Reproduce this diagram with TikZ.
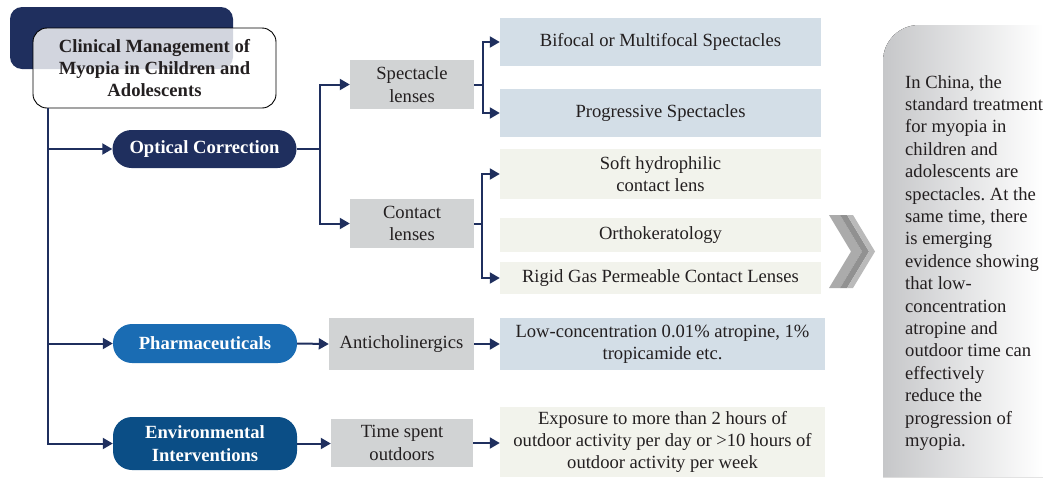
\documentclass[tikz,border=0pt]{standalone}
\usepackage{fontspec}
\setmainfont{Liberation Serif}
\usetikzlibrary{arrows.meta}
\frenchspacing
\definecolor{ink}{HTML}{231F20}
\definecolor{navy}{HTML}{1F2F5E}
\definecolor{pharmablue}{HTML}{1A6CB3}
\definecolor{envblue}{HTML}{0B4E86}
\definecolor{boxgrey}{HTML}{D1D3D4}
\definecolor{boxblue}{HTML}{D3DEE7}
\definecolor{boxcream}{HTML}{F2F3EC}
\definecolor{panelgrey}{HTML}{C6C7C9}

\begin{document}
\begin{tikzpicture}[x=1pt,y=-1pt,
  every node/.style={inner sep=0pt, align=center, text=ink, font=\fontsize{18.6}{22.4}\selectfont},
  pill/.style={fill=#1, rounded corners=19pt, minimum width=184pt, text=white,
    font=\fontsize{18.6}{22.4}\selectfont\bfseries},
  greybox/.style={fill=boxgrey, minimum width=#1},
  bluebox/.style={fill=boxblue, minimum width=#1},
  creambox/.style={fill=boxcream, minimum width=#1},
  stem/.style={draw=navy, line width=2pt},
  link/.style={stem, -{Triangle[length=10pt,width=11pt]}},
  ]
  \useasboundingbox (0,0) rectangle (1043,477);
  \newcommand{\chevband}[3]{\fill[#3] ({829+#1},215) -- ({829+#2},215) -- ({851+#2},251.5)
    -- ({829+#2},288) -- ({829+#1},288) -- ({851+#1},251.5) -- cycle;}

  \node (shadow) at (121.5,38) [fill=navy, rounded corners=12pt, minimum width=223pt, minimum height=62pt] {};
  \node (title) at (154.5,68) [draw=black, line width=0.9pt, fill=white, fill opacity=0.8, text opacity=1,
    rounded corners=14pt, minimum width=243pt, minimum height=80pt,
    font=\fontsize{18.6}{22.4}\selectfont\bfseries] {Clinical Management of\\Myopia in Children and\\Adolescents};

  \node (optical) at (204.5,149) [pill=navy, minimum height=38pt] {Optical Correction};
  \node (pharma) at (205,343.5) [pill=pharmablue, minimum height=39pt] {Pharmaceuticals};
  \node (enviro) at (205,443.5) [pill=envblue, minimum height=53pt] {Environmental\\Interventions};

  \node (spec) at (412,84.5) [greybox=124pt, minimum height=49pt] {Spectacle\\lenses};
  \node (contact) at (412,223.5) [greybox=124pt, minimum height=49pt] {Contact\\lenses};
  \node (anti) at (401.5,344) [greybox=145pt, minimum height=52pt] {Anticholinergics};
  \node (outdoor) at (402,443) [greybox=142pt, minimum height=48pt] {Time spent\\outdoors};

  \node (bifocal) at (660.5,42) [bluebox=321pt, minimum height=48pt] {Bifocal or Multifocal Spectacles};
  \node (progressive) at (660.5,113) [bluebox=321pt, minimum height=48pt] {Progressive Spectacles};
  \node (soft) at (660.5,174) [creambox=321pt, minimum height=50pt] {Soft hydrophilic\\contact lens};
  \node (ortho) at (660.5,235) [creambox=321pt, minimum height=34pt] {Orthokeratology};
  \node (rigid) at (660.5,278) [creambox=321pt, minimum height=32pt] {Rigid Gas Permeable Contact Lenses};
  \node (atropine) at (662.5,344) [bluebox=325pt, minimum height=52pt] {Low-concentration 0.01\% atropine, 1\%\\tropicamide etc.};
  \node (exposure) at (662.5,442) [creambox=325pt, minimum height=70pt] {Exposure to more than 2 hours of\\outdoor activity per day or >10 hours of\\outdoor activity per week};

  \coordinate (trunk) at ([xshift=15pt]title.south west);
  \draw[link] (trunk) |- (optical.west);
  \draw[link] (trunk) |- (pharma.west);
  \draw[link] (trunk) |- (enviro.west);

  \draw[stem] (optical.east) -- ++(23.5,0) coordinate (ocfork);
  \draw[link] (ocfork) |- (spec.west);
  \draw[link] (ocfork) |- (contact.west);
  \draw[stem] (spec.east) -- ++(9,0) coordinate (specfork);
  \draw[link] (specfork) |- (bifocal.west);
  \draw[link] (specfork) |- (progressive.west);
  \draw[stem] (contact.east) -- ++(8,0) coordinate (lensfork);
  \draw[link] (lensfork) |- (soft.west);
  \draw[link] (lensfork) |- (rigid.west);

  \draw[link] (pharma.east) -- (anti.west);
  \draw[link] (anti.east) -- (anti.east -| atropine.west);
  \draw[link] (enviro.east) -- (enviro.east -| outdoor.west);
  \draw[link] (outdoor.east) -- (outdoor.east -| exposure.west);

  \chevband{0}{11}{black!33}
  \chevband{11}{18}{black!43}
  \chevband{18}{24}{black!27}

  \fill[left color=panelgrey, right color=white] (1043,477) -- (883,477) [rounded corners=36pt] -- (883,25)
    [sharp corners] -- (1043,25) -- cycle;
  \node (note) at (905,75) [anchor=north west, align=left] {In China, the\\standard treatment\\for myopia in\\children and\\adolescents are\\spectacles. At the\\same time, there\\is emerging\\evidence showing\\that low-\\concentration\\atropine and\\outdoor time can\\effectively\\reduce the\\progression of\\myopia.};
\end{tikzpicture}
\end{document}
